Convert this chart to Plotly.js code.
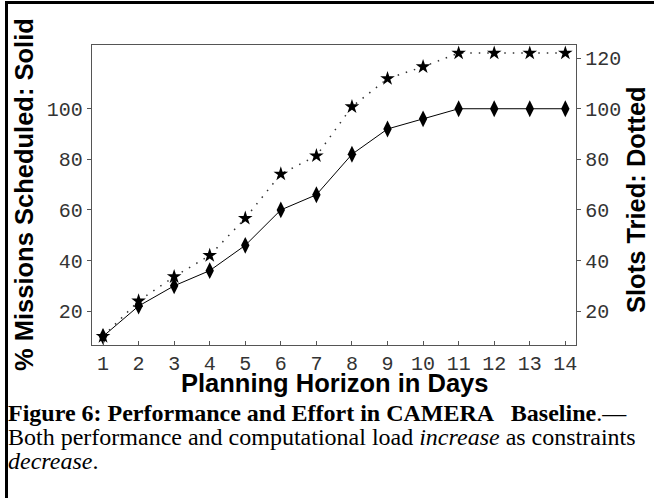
<!DOCTYPE html>
<html>
<head>
<meta charset="utf-8">
<script src="https://cdn.plot.ly/plotly-3.0.1.min.js"></script>
<style>
  html, body { margin: 0; padding: 0; background: #fff; }
  #wrap { position: relative; width: 654px; height: 498px; overflow: hidden; }
  #chart { width: 654px; height: 498px; }
  #frame { position: absolute; left: 5px; top: 1px; width: 660px; height: 520px;
           border-top: 3px solid #000; border-left: 3px solid #000; pointer-events: none; }
</style>
</head>
<body>
<div id="wrap">
  <div id="chart"></div>
  <div id="frame"></div>
</div>
<script>
// Data
const days = [1, 2, 3, 4, 5, 6, 7, 8, 9, 10, 11, 12, 13, 14];
const missionsScheduled = [10, 22, 30, 36, 46, 60, 66, 82, 92, 96, 100, 100, 100, 100];
const slotsTried = [10, 24, 33.6, 42, 56.7, 74.2, 81.4, 100.8, 111.9, 116.6, 122, 122, 122, 122];
const xTicks = [1, 2, 3, 4, 5, 6, 7, 8, 9, 10, 11, 12, 13, 14];
const leftTicks = [20, 40, 60, 80, 100];
const rightTicks = [20, 40, 60, 80, 100, 120];

const W = 654, H = 498;
const M = { l: 92, r: 78, t: 45, b: 153 };
const pw = W - M.l - M.r, ph = H - M.t - M.b;
const px = (x) => (x - M.l) / pw;
const py = (y) => (H - M.b - y) / ph;

const yRange = [6.6, 125.2];
const tickFont = { family: 'Liberation Mono, Courier New, monospace', size: 20, color: '#333' };
const titleFont = { family: 'Liberation Sans, Arial, sans-serif', size: 25.5, color: '#000' };
const capFont = { family: 'Liberation Serif, Times New Roman, serif', size: 24, color: '#000' };

const traces = [
  {
    x: days, y: missionsScheduled, type: 'scatter', mode: 'lines+markers',
    line: { color: '#000', width: 1 },
    marker: { symbol: 'diamond-tall', size: 12, color: '#000' },
    yaxis: 'y', hoverinfo: 'skip'
  },
  {
    x: days, y: slotsTried, type: 'scatter', mode: 'lines+markers',
    line: { color: '#333', width: 1.5, dash: '1.5px,7px' },
    marker: { symbol: 'star', size: 11, color: '#000' },
    yaxis: 'y2', hoverinfo: 'skip'
  }
];

const layout = {
  width: W, height: H,
  margin: M,
  paper_bgcolor: '#fff', plot_bgcolor: '#fff',
  showlegend: false,
  xaxis: {
    range: [0.69, 14.3], tickvals: xTicks, ticktext: xTicks.map(String),
    ticks: 'inside', ticklen: 4, tickcolor: '#555', tickwidth: 1,
    showline: true, linecolor: '#555', linewidth: 1.2, mirror: true,
    showgrid: false, zeroline: false, tickfont: tickFont
  },
  yaxis: {
    range: yRange, tickvals: leftTicks, ticktext: leftTicks.map(String),
    ticks: 'outside', ticklen: 4, tickcolor: '#555', tickwidth: 1,
    showline: true, linecolor: '#555', linewidth: 1.2, mirror: true,
    showgrid: false, zeroline: false, tickfont: tickFont
  },
  yaxis2: {
    range: yRange, tickvals: rightTicks, ticktext: rightTicks.map(String),
    overlaying: 'y', side: 'right',
    ticks: 'outside', ticklen: 4, tickcolor: '#555', tickwidth: 1,
    showline: true, linecolor: '#555', linewidth: 1.2,
    showgrid: false, zeroline: false, tickfont: tickFont
  },
  annotations: [
    { text: '<b>% Missions Scheduled: Solid</b>', xref: 'paper', yref: 'paper',
      x: px(24), y: py(195), textangle: -90, showarrow: false, font: titleFont,
      xanchor: 'center', yanchor: 'middle' },
    { text: '<b>Slots Tried: Dotted</b>', xref: 'paper', yref: 'paper',
      x: px(636), y: py(200), textangle: -90, showarrow: false, font: titleFont,
      xanchor: 'center', yanchor: 'middle' },
    { text: '<b>Planning Horizon in Days</b>', xref: 'paper', yref: 'paper',
      x: px(334), y: py(383), showarrow: false, font: titleFont,
      xanchor: 'center', yanchor: 'middle' },
    { text: '<b>Figure 6: Performance and Effort in CAMERA &nbsp;&nbsp;Baseline</b>.—', xref: 'paper', yref: 'paper',
      x: px(6), y: py(413), showarrow: false, font: capFont, xanchor: 'left', yanchor: 'middle' },
    { text: 'Both performance and computational load <i>increase</i> as constraints', xref: 'paper', yref: 'paper',
      x: px(6), y: py(437), showarrow: false, font: capFont, xanchor: 'left', yanchor: 'middle' },
    { text: '<i>decrease</i>.', xref: 'paper', yref: 'paper',
      x: px(6), y: py(461), showarrow: false, font: capFont, xanchor: 'left', yanchor: 'middle' }
  ]
};

Plotly.newPlot('chart', traces, layout, { displayModeBar: false, staticPlot: true });
</script>
</body>
</html>
